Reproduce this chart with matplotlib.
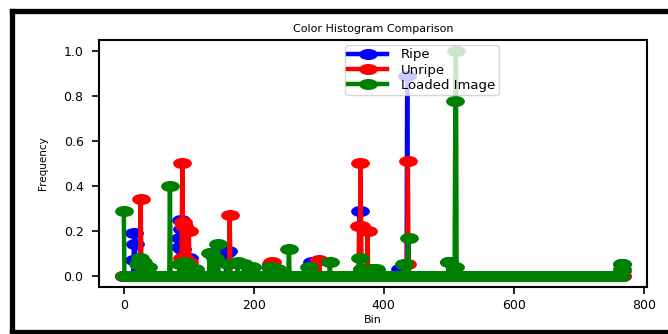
import numpy as np
import matplotlib.pyplot as plt
from matplotlib.path import Path
from matplotlib.transforms import Affine2D
from matplotlib.lines import Line2D

n_bins = 768

# non-zero bins, the rest are zero
ripe_bins = [15, 16, 17, 18, 24, 86, 87, 88, 89, 90, 91, 101, 158, 160, 227, 289,
             363, 425, 436, 500, 766]
ripe_vals = [0.07, 0.19, 0.14, 0.07, 0.05, 0.13, 0.17, 0.25, 0.21, 0.12, 0.08, 0.08,
             0.10, 0.11, 0.05, 0.06, 0.29, 0.03, 0.89, 0.06, 0.05]

unripe_bins = [26, 27, 89, 90, 91, 92, 93, 100, 101, 163, 228, 301, 362, 364, 365,
               366, 375, 436, 437, 767]
unripe_vals = [0.34, 0.05, 0.08, 0.50, 0.24, 0.22, 0.08, 0.20, 0.06, 0.27, 0.06, 0.07,
               0.22, 0.50, 0.22, 0.03, 0.20, 0.05, 0.51, 0.02]

loaded_bins = [0, 22, 25, 30, 38, 71, 86, 92, 98, 110, 132, 140, 145, 160, 175, 185,
               198, 225, 236, 254, 285, 317, 363, 366, 380, 388, 431, 438, 500, 509,
               510, 511, 766, 767]
loaded_vals = [0.29, 0.05, 0.08, 0.06, 0.04, 0.40, 0.05, 0.06, 0.05, 0.03, 0.10, 0.08,
               0.14, 0.05, 0.06, 0.05, 0.04, 0.04, 0.03, 0.12, 0.04, 0.06, 0.08, 0.03,
               0.03, 0.03, 0.05, 0.17, 0.06, 0.04, 0.78, 1.0, 0.05, 0.03]

ripe = np.zeros(n_bins)
ripe[ripe_bins] = ripe_vals
unripe = np.zeros(n_bins)
unripe[unripe_bins] = unripe_vals
loaded = np.zeros(n_bins)
loaded[loaded_bins] = loaded_vals
bins = np.arange(n_bins)

# the reference is stretched sideways, so markers are ellipses
ellipse = Path.unit_circle().transformed(Affine2D().scale(1.8, 1.0))

fig = plt.figure(figsize=(6.68, 3.34), dpi=100)
ax = fig.add_axes([0.148, 0.141, 0.821, 0.739])

kw = dict(marker=ellipse, markersize=12.5, linewidth=3.2)
ax.plot(bins, ripe, color='blue', label='Ripe', **kw)
ax.plot(bins, unripe, color='red', label='Unripe', **kw)
ax.plot(bins, loaded, color='green', label='Loaded Image', **kw)

ax.set_title('Color Histogram Comparison', fontsize=8)
ax.set_xlabel('Bin', fontsize=8, labelpad=2)
ax.set_ylabel('Frequency', fontsize=7.5, labelpad=11)
ax.set_xticks([0, 200, 400, 600, 800])
ax.set_yticks([0.0, 0.2, 0.4, 0.6, 0.8, 1.0])
ax.tick_params(labelsize=9, length=5, width=1.2, pad=4)
ax.tick_params(axis='y', pad=6)
for s in ax.spines.values():
    s.set_linewidth(1.5)

ax.legend(loc='upper left', bbox_to_anchor=(0.449, 0.98), borderaxespad=0,
          fontsize=9.5, labelspacing=0.18, borderpad=0.25, handlelength=2.9,
          handletextpad=1.1)

# black frame: left, top and bottom only, the right side is cut off
x0, y0, y1 = 12 / 668, 2 / 334, 1 - 10.5 / 334
for xs, ys in [([x0, x0], [y0, y1]), ([x0, 1.0], [y1, y1]), ([x0, 1.0], [y0, y0])]:
    fig.add_artist(Line2D(xs, ys, transform=fig.transFigure, color='black',
                          linewidth=3.8, solid_capstyle='projecting'))

fig.savefig('out.png', dpi=100)
